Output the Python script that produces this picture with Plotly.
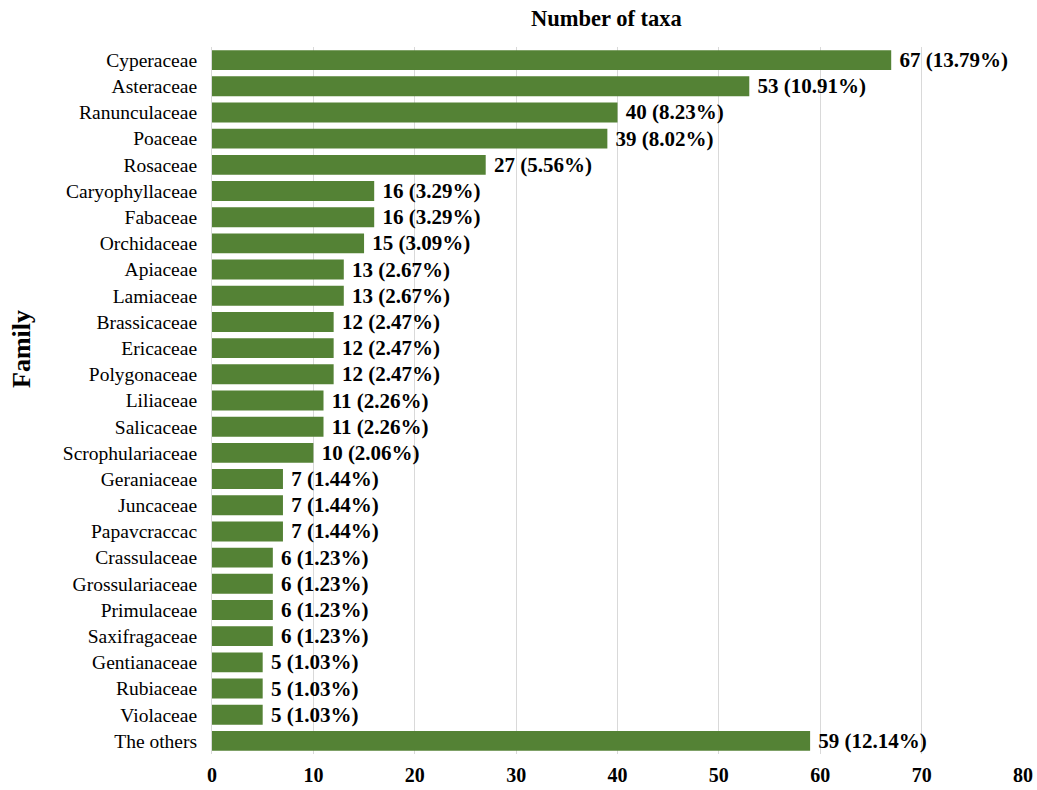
import plotly.graph_objects as go

families = ["Cyperaceae", "Asteraceae", "Ranunculaceae", "Poaceae", "Rosaceae",
            "Caryophyllaceae", "Fabaceae", "Orchidaceae", "Apiaceae", "Lamiaceae",
            "Brassicaceae", "Ericaceae", "Polygonaceae", "Liliaceae", "Salicaceae",
            "Scrophulariaceae", "Geraniaceae", "Juncaceae", "Papavcraccac", "Crassulaceae",
            "Grossulariaceae", "Primulaceae", "Saxifragaceae", "Gentianaceae", "Rubiaceae",
            "Violaceae", "The others"]
counts = [67, 53, 40, 39, 27, 16, 16, 15, 13, 13, 12, 12, 12, 11, 11, 10, 7, 7, 7,
          6, 6, 6, 6, 5, 5, 5, 59]
percents = ["13.79", "10.91", "8.23", "8.02", "5.56", "3.29", "3.29", "3.09", "2.67",
            "2.67", "2.47", "2.47", "2.47", "2.26", "2.26", "2.06", "1.44", "1.44", "1.44",
            "1.23", "1.23", "1.23", "1.23", "1.03", "1.03", "1.03", "12.14"]
x_ticks = [0, 10, 20, 30, 40, 50, 60, 70, 80]

labels = ["\u00a0" + f"{c} ({p}%)" for c, p in zip(counts, percents)]

FONT = "Liberation Serif"
W, H = 1037, 790
L, R, T, B = 212, 14, 47, 36

fig = go.Figure(go.Bar(
    x=counts, y=families, orientation="h",
    marker=dict(color="#548235", line=dict(width=0)),
    width=0.76,
    text=labels, textposition="outside", cliponaxis=False, constraintext="none",
    textfont=dict(family=FONT, size=21, color="black", weight="bold"),
))

fig.update_layout(
    width=W, height=H,
    paper_bgcolor="white", plot_bgcolor="white",
    margin=dict(l=L, r=R, t=T, b=B, pad=0, autoexpand=False),
    showlegend=False,
    font=dict(family=FONT, color="black"),
    xaxis=dict(range=[0, 80], tickvals=x_ticks, showgrid=True, gridcolor="#d9d9d9",
               gridwidth=1, zeroline=False, showline=False, automargin=False,
               ticklabeloverflow="allow",
               tickfont=dict(family=FONT, size=20, color="black", weight="bold"),
               ticks="outside", ticklen=3, tickcolor="rgba(0,0,0,0)", fixedrange=True),
    yaxis=dict(categoryorder="array", categoryarray=families[::-1], autorange=False,
               range=[-0.5, len(families) - 0.5], automargin=False,
               showline=True, linecolor="#d9d9d9", linewidth=1, showgrid=False,
               tickfont=dict(family=FONT, size=19.5, color="black"),
               ticks="outside", ticklen=10, tickcolor="rgba(0,0,0,0)"),
)

pw = W - L - R
ph = H - T - B
def px(xp):
    return (xp - L) / pw
def py(yp):
    return (H - B - yp) / ph

fig.add_annotation(text="<b>Number of taxa</b>", xref="paper", yref="paper",
                   x=px(606), y=py(19), xanchor="center", yanchor="middle",
                   showarrow=False, font=dict(family=FONT, size=22.5, color="black"))
fig.add_annotation(text="<b>Family</b>", textangle=-90, xref="paper", yref="paper",
                   x=px(21), y=py(349), xanchor="center", yanchor="middle",
                   showarrow=False, font=dict(family=FONT, size=26, color="black"))

fig.write_html("out.html", config={"displayModeBar": False},
               post_script="document.body.style.margin='0';document.body.style.overflow='hidden';")
